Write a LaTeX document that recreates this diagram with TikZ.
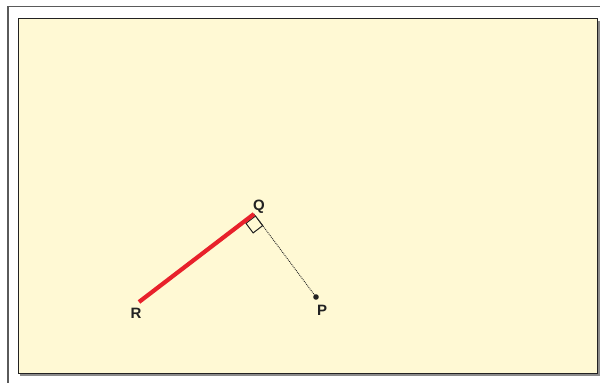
\documentclass[tikz,border=0pt]{standalone}
\usepackage{fontspec}
\setmainfont{Liberation Sans}
\usetikzlibrary{calc}
\definecolor{PaperCream}{HTML}{FFF9D4}
\definecolor{FrameGray}{HTML}{5A5A5A}
\definecolor{SegRed}{HTML}{E8212B}
\definecolor{InkDark}{HTML}{222222}
\tikzset{
  frame/.style={draw=FrameGray,line width=1.4pt},
  panel/.style={draw=InkDark,line width=1pt,fill=PaperCream},
  shadow/.style={fill=FrameGray!70},
  segment/.style={draw=SegRed,line width=4.2pt},
  perp/.style={draw=InkDark,line width=0.9pt,dash pattern=on 0.9pt off 1pt},
  marker/.style={draw=InkDark,line width=1pt},
  ptlabel/.style={font=\bfseries\fontsize{15}{15}\selectfont,text=InkDark,inner sep=0pt}
}
\begin{document}
\begin{tikzpicture}[x=1pt,y=-1pt]
  \useasboundingbox (0,0) rectangle (600,383);
  % frame and sheet
  \draw[frame] (600,6.5) -- (8,6.5) -- (8,383);
  \fill[shadow] (20,20.5) rectangle (600,375.5);
  \draw[panel] (18,18.5) rectangle (597.5,373);
  % points
  \coordinate (Q) at (254,214);
  \coordinate (R) at (139,302);
  \coordinate (P) at (316,297);
  \draw[perp] (Q) -- (P);
  % right angle mark
  \coordinate (C) at ($(Q)!2.5pt!(P)$);
  \coordinate (A) at ($(C)!12pt!($(C)+(R)-(Q)$)$);
  \coordinate (B) at ($(C)!12pt!(P)$);
  \coordinate (D) at ($(A)+(B)-(C)$);
  \draw[marker] (C) -- (A) -- (D) -- (B) -- cycle;
  \draw[segment] (R) -- (Q);
  \fill[InkDark] (P) circle (2.8pt);
  \node[ptlabel] (lq) at (259,207) {Q};
  \node[ptlabel] (lr) at (136,313) {R};
  \node[ptlabel] (lp) at (322,310) {P};
\end{tikzpicture}
\end{document}
